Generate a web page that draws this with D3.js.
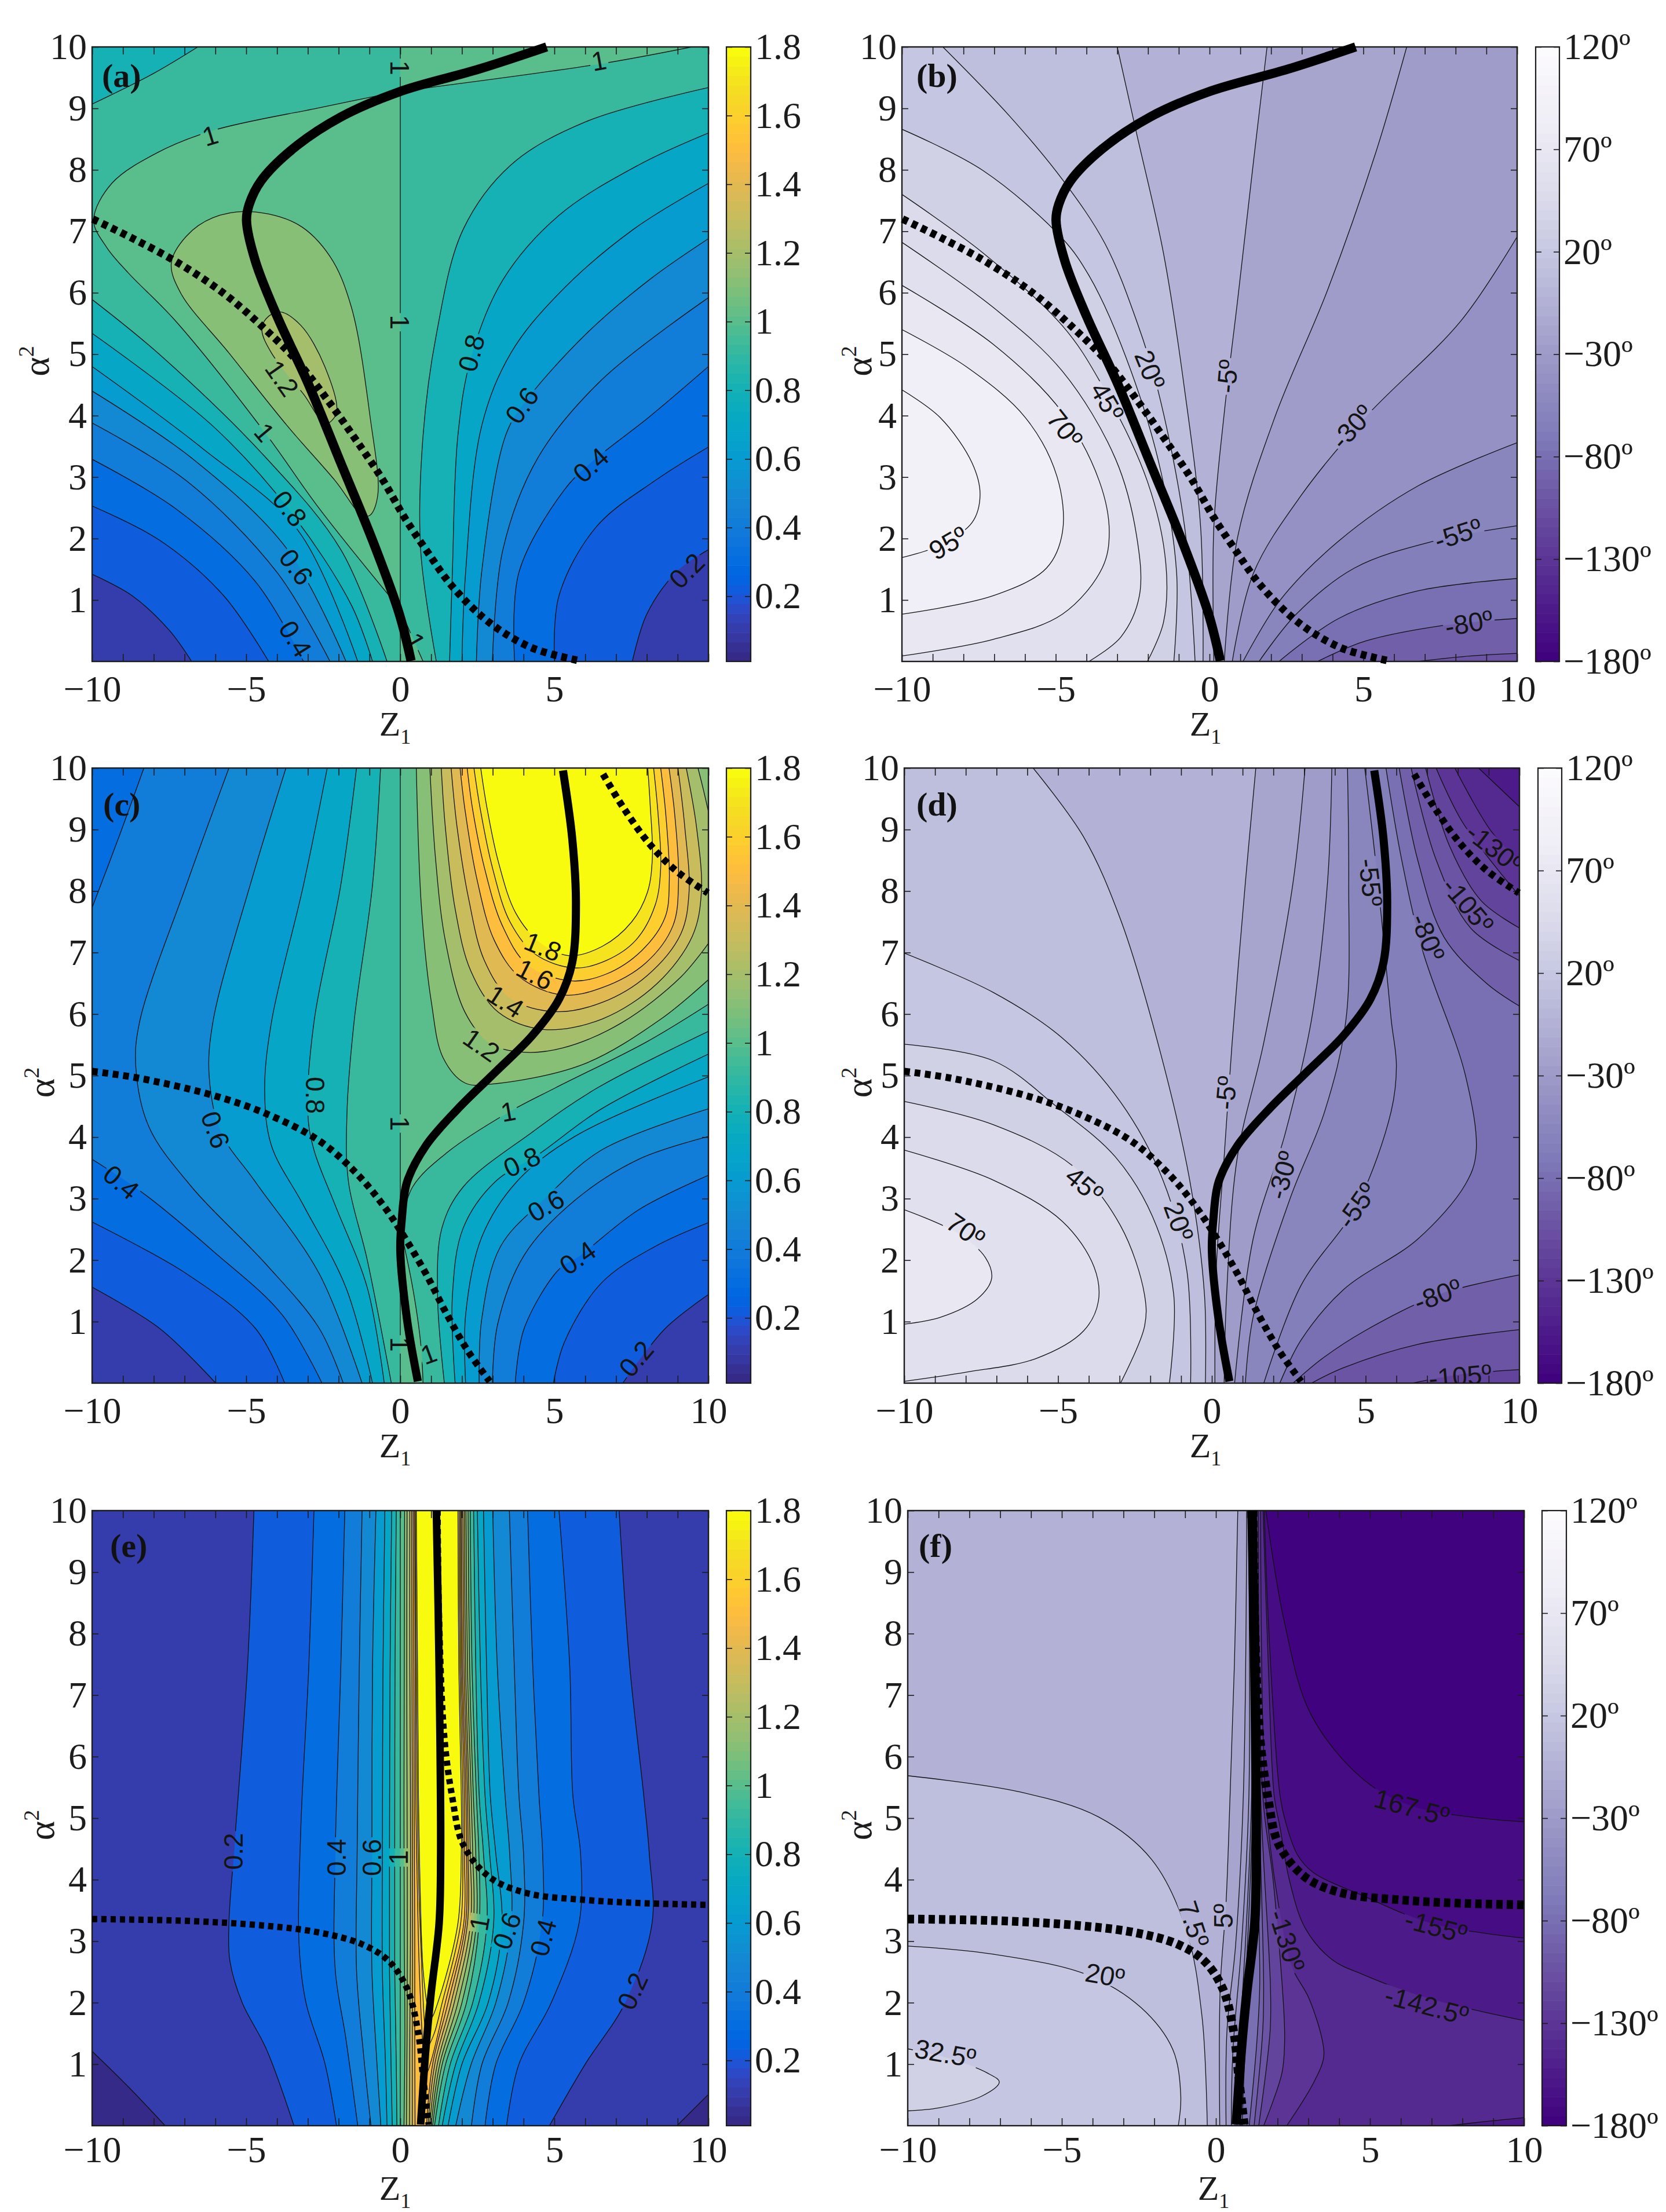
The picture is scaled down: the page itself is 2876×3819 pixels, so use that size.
<!DOCTYPE html>
<html><head><meta charset="utf-8">
<script src="https://cdn.jsdelivr.net/npm/d3@7"></script>
<style>html,body{margin:0;padding:0;background:#fff}</style></head>
<body><svg id="fig" width="2876" height="3819" xmlns="http://www.w3.org/2000/svg"></svg>
<script>
// ---- colour tables ----
const parulaTable = [[.2081,.1663,.5292],[.2116,.1898,.5777],[.2123,.2138,.627],[.2081,.2386,.6771],[.1959,.2645,.7279],[.1707,.2919,.7792],[.1253,.3242,.8303],[.0591,.3598,.8683],[.0117,.3875,.882],[.006,.4086,.8828],[.0165,.4266,.8786],[.0329,.443,.872],[.0498,.4586,.8641],[.0629,.4737,.8554],[.0723,.4887,.8467],[.0779,.504,.8384],[.0793,.52,.8312],[.0749,.5375,.8263],[.0641,.557,.824],[.0488,.5772,.8228],[.0343,.5966,.8199],[.0265,.6137,.8135],[.0239,.6287,.8038],[.0231,.6418,.7913],[.0228,.6535,.7768],[.0267,.6642,.7607],[.0384,.6743,.7436],[.059,.6838,.7254],[.0843,.6928,.7062],[.1133,.7015,.6859],[.1453,.7098,.6646],[.1801,.7177,.6424],[.2178,.725,.6193],[.2586,.7317,.5954],[.3022,.7376,.5712],[.3482,.7424,.5473],[.3953,.7459,.5244],[.442,.7481,.5033],[.4871,.7491,.484],[.53,.7491,.4661],[.5709,.7485,.4494],[.6099,.7473,.4337],[.6473,.7456,.4188],[.6834,.7435,.4044],[.7184,.7411,.3905],[.7525,.7384,.3768],[.7858,.7356,.3633],[.8185,.7327,.3498],[.8507,.7299,.336],[.8824,.7274,.3217],[.9139,.7258,.3063],[.945,.7261,.2886],[.9739,.7314,.2666],[.9938,.7455,.2403],[.999,.7653,.2164],[.9955,.7861,.1967],[.988,.8066,.1794],[.9789,.8271,.1633],[.9697,.8481,.1475],[.9626,.8705,.1309],[.9589,.8949,.1132],[.9598,.9218,.0948],[.9661,.9514,.0755],[.9763,.9831,.0538]];
const purpleRamp = d3.piecewise(d3.interpolateRgb, d3.schemePurples[9]);
const STEPS = 64;
const magDomain = [0, 1.8], phaseDomain = [-180, 120];
const magBarDomain = [0.01, 1.8];
const magTicks = [0.2,0.4,0.6,0.8,1,1.2,1.4,1.6,1.8];
const phaseTicks = [-180,-130,-80,-30,20,70,120];
const zLabels = [-10,-5,0,5,10];
const alphaTicks = [1,2,3,4,5,6,7,8,9,10];

function bandIndex(v, dom){ const t=(v-dom[0])/(dom[1]-dom[0]); return Math.max(0,Math.min(STEPS-1,Math.floor(t*STEPS+1e-9))); }
function magColor(v){ const c=parulaTable[bandIndex(v,magDomain)]; return d3.rgb(c[0]*255,c[1]*255,c[2]*255).formatHex(); }
// the phase scale runs from deep purple at -180 to near white at 120
function phaseColor(v){ return d3.color(purpleRamp(1-(bandIndex(v,phaseDomain)+.5)/STEPS)).formatHex(); }

// ---- resonance and dispersion curves (Z1, alpha^2) ----
const resAB = [[4.75,10],[2.56,9.64],[-.03,9.27],[-1.93,8.86],[-3.49,8.34],[-4.52,7.82],[-4.9,7.44],[-4.99,7.18],[-4.7,6.51],[-4,5.62],[-2.97,4.5],[-1.93,3.23],[-.9,1.97],[-.03,.77],[.35,.01]];
const dotAB = [[-9.98,7.2],[-8.67,6.88],[-7.29,6.51],[-5.73,5.99],[-4.35,5.39],[-3.32,4.87],[-2.28,4.2],[-1.24,3.46],[-.55,2.94],[.14,2.34],[.83,1.82],[1.69,1.22],[2.9,.63],[4.28,.22],[5.84,.01]];
const resCD = [[5.28,9.96],[5.58,8.85],[5.7,7.8],[5.58,6.84],[5.15,6.24],[4.28,5.65],[3.07,5.05],[1.87,4.46],[.83,3.86],[.22,3.27],[.05,2.67],[0,2.15],[.22,1.03],[.57,.03]];
const dotCDleft = [[-10,5.07],[-8.5,4.96],[-6.08,4.68],[-4.35,4.38],[-2.63,3.94],[-1.42,3.41],[-.55,2.89],[.14,2.37],[.83,1.78],[1.52,1.11],[2.21,.51],[2.9,.03]];
const dotCDright = [[6.58,9.9],[7.22,9.37],[8.08,8.77],[8.95,8.33],[9.98,7.97]];
const resEF = [[1.17,10],[1.26,7.45],[1.31,4.42],[1.26,3.29],[1,2.15],[.83,1.25],[.66,.02]];
const dotEFleft = [[-10,3.36],[-6.94,3.33],[-4.35,3.25],[-2.63,3.14],[-1.24,2.95],[-.38,2.68],[.22,2.23],[.57,1.55],[.74,.79],[.92,.02]];
const dotEFright = [[1.21,10],[1.26,8.2],[1.43,6.31],[1.69,5.33],[2.04,4.57],[2.9,4.04],[4.11,3.78],[6.01,3.67],[7.74,3.62],[10,3.59]];

// ---- contour entries ----
// lo: pocket below the level lies on the right of the walking direction
// hi: region above the level lies on the right of the walking direction
const lo = (v,p,o={}) => ({v,side:'lo',segs:[p],...o});
const hi = (v,p,o={}) => ({v,side:'hi',segs:[p],...o});
const wire = (v,p) => ({v,side:'line',segs:[p]});
const zeroLine = [[0,0],[0,10]];

const contoursA = [
 lo(.2,[[-10,1.42],[-8.7,1.07],[-7.5,.51],[-6.77,0]]),
 lo(.3,[[-10,2.53],[-7.8,1.97],[-5.73,1.07],[-4.27,0]]),
 lo(.4,[[-10,3.29],[-7.3,2.49],[-4.7,1.3],[-3.14,0]]),
 lo(.5,[[-10,3.88],[-6.94,2.94],[-4,1.45],[-2.28,0]]),
 lo(.6,[[-10,4.4],[-6.77,3.31],[-3.66,1.82],[-1.76,0]]),
 lo(.7,[[-10,4.8],[-6.4,3.46],[-3.3,2.12],[-1.38,0]]),
 lo(.8,[[-10,5.34],[-6.08,3.83],[-3.58,2.45],[-1.59,.92],[-.9,0]]),
 lo(.9,[[-10,5.89],[-7.8,4.99],[-4.35,3.31],[-1.93,1.82],[-.43,0]]),
 lo(.2,[[7.53,0],[8,.77],[8.95,1.45],[10,1.82]]),
 lo(.3,[[5,0],[5.15,1.07],[6.36,2.19],[8.26,2.94],[10,3.49]]),
 lo(.4,[[3.71,0],[3.85,1.45],[5.32,2.79],[6.18,3.23],[8.08,3.98],[10,4.8]]),
 lo(.5,[[2.99,0],[3.33,1.82],[4.46,3.31],[6.53,4.58],[10,5.92]]),
 lo(.6,[[2.47,0],[2.64,1.45],[3.42,3.68],[4.02,4.2],[6.01,5.32],[8.08,6.21],[10,6.88]]),
 lo(.7,[[2,0],[2.12,1.45],[2.64,3.83],[3.59,5.02],[5.15,5.99],[7.56,7.03],[10,7.78]]),
 lo(.8,[[1.6,0],[1.69,1.45],[1.87,3.68],[2.3,4.95],[3.33,6.21],[5.15,7.26],[7.74,8.08],[10,8.6]]),
 lo(.9,[[1.17,0],[.66,1.82],[.74,3.68],[1.17,5.32],[2.04,7.03],[3.59,8.08],[6.01,8.78],[10,9.34]]),
 lo(.9,[[-6.57,10],[-8,9.57],[-10,9.07]]),
 hi(1,[[0,.85],[-2.63,2.49],[-4.4,3.73],[-7.29,5.54],[-8.84,6.33],[-9.53,6.74],[-9.95,7.18],[-9.36,7.78],[-7.8,8.3],[-6.08,8.64],[-2.63,9.01],[0,9.28]]),
 hi(1,[[9.46,10],[6.44,9.72],[.65,9.32],[0,9.28]],{via:[[0,10]]}),
 hi(1,[[0,.85],[.3,.5],[.74,0]],{via:[[0,0]]}),
 wire(1,zeroLine),
 hi(1.1,[[-4.87,7.32],[-3.32,7.11],[-2.28,6.59],[-1.59,5.77],[-.98,3.98],[-.73,2.71],[-.98,2.38],[-1.24,2.38],[-2.11,2.94],[-3.66,3.83],[-5.56,5.02],[-7.12,5.99],[-7.43,6.48],[-6.94,6.92],[-6.08,7.22]],{closed:true}),
 hi(1.2,[[-3.92,5.69],[-3.23,5.47],[-2.45,4.8],[-2.07,4.05],[-2.42,3.87],[-3.14,4.35],[-4.18,5.02],[-4.49,5.39],[-4.35,5.58]],{closed:true}),
];
const labelsA = [["1",-6.17,8.56,-17],["1",6.44,9.78,-10],["1",0,9.66,90],["1",0,5.52,90],["1",-4.4,3.73,50],["1",.48,.33,60],["0.8",2.3,5.02,-75],["0.6",3.94,4.17,-55],["0.4",6.18,3.2,-42],["0.2",9.29,1.48,-45],["1.2",-3.83,4.61,55],["0.8",-3.58,2.49,52],["0.6",-3.37,1.54,53],["0.4",-3.4,.37,58]];

const contoursB = [
 hi(-92.5,[[10,.13],[8.51,.09],[6.79,0]]),
 hi(-80,[[10,.7],[7.65,.59],[5.06,.33],[3.51,0]]),
 hi(-67.5,[[10,1.35],[6.79,1.15],[4.2,.7],[2.26,0]]),
 hi(-55,[[10,2.21],[7.3,1.96],[4.71,1.52],[2.82,.77],[1.61,0]]),
 hi(-42.5,[[10,3.56],[6.79,2.86],[4.2,1.96],[2.3,1],[1.09,0]]),
 hi(-30,[[10,6.91],[8.17,5.54],[5.06,3.97],[2.99,2.71],[1.43,1.44],[.74,0]]),
 hi(-17.5,[[6.41,10],[5.41,8.29],[3.85,6.06],[2.12,3.97],[.92,2.04],[.48,0]]),
 hi(-5,[[1.87,10],[1.43,8.14],[.92,5.91],[.48,4.05],[.14,2.19],[.14,0]]),
 hi(7.5,[[-3,10],[-2.37,8.59],[-1.5,6.65],[-.81,4.42],[-.29,2.19],[-.21,0]]),
 hi(20,[[-8.67,10],[-6.51,8.88],[-4.78,7.84],[-3.4,6.8],[-2.37,5.54],[-1.68,4.42],[-.81,2.19],[-.47,0]]),
 hi(32.5,[[-10,8.66],[-7.37,7.99],[-4.78,6.88],[-3.92,6.28],[-2.88,5.16],[-1.68,3.3],[-1.07,1.44],[-1.16,0]]),
 hi(45,[[-10,7.6],[-7.37,6.65],[-4.78,5.46],[-3.58,4.57],[-2.02,2.93],[-1.42,1.59],[-1.5,.63],[-2.02,0]]),
 hi(57.5,[[-10,6.82],[-7.03,5.76],[-4.78,4.72],[-3.06,3.3],[-2.37,2.04],[-2.28,1.07],[-2.88,.4],[-3.92,0]]),
 hi(70,[[-10,6.12],[-7.03,5.16],[-4.78,4.05],[-3.58,2.93],[-3.26,2.11],[-3.49,1.52],[-4.78,.77],[-7.03,.36],[-10,.09]]),
 hi(82.5,[[-10,5.4],[-7.89,4.79],[-5.99,3.97],[-4.96,3.01],[-4.78,2.11],[-5.3,1.52],[-7.03,1.07],[-10,.77]]),
 hi(95,[[-10,4.42],[-8.76,3.97],[-7.72,3.23],[-7.46,2.71],[-7.72,2.26],[-8.76,1.89],[-10,1.69]]),
];
const labelsB = [["95º",-8.5,1.93,-30],["70º",-4.7,3.79,52],["45º",-3.32,4.23,60],["20º",-1.93,4.75,68],["-5º",.57,4.64,-85],["-30º",4.63,3.82,-48],["-55º",8.08,2.08,-18],["-80º",8.43,.63,-10]];

const contoursC = [
 lo(.4,[[-8.32,10],[-9.1,8.92],[-10,7.73]]),
 lo(.2,[[-10,1.56],[-7.81,.89],[-5.99,0]]),
 lo(.3,[[-10,2.62],[-6.94,1.78],[-4.7,.89],[-3.75,0]]),
 lo(.4,[[-10,3.64],[-8.32,3.08],[-6.08,2.15],[-3.83,1.11],[-2.54,0]]),
 lo(.5,[[-5.56,10],[-6.94,8.1],[-8.46,5.87],[-8.58,5.13],[-8.15,4.16],[-6.77,3.19],[-4.35,1.93],[-2.63,.89],[-1.85,0]]),
 lo(.6,[[-3.71,10],[-4.87,8.1],[-6.08,5.87],[-6.2,4.98],[-5.82,4.08],[-4.7,3.27],[-2.63,1.78],[-1.24,0]]),
 lo(.7,[[-2.37,10],[-3.14,8.1],[-4.18,5.87],[-4.4,4.75],[-4.18,3.86],[-3.14,2.89],[-1.76,1.55],[-.9,0]]),
 lo(.8,[[-1.42,10],[-1.93,8.1],[-2.8,5.87],[-3,4.38],[-2.8,3.79],[-2.11,2.89],[-1.07,1.55],[-.52,0]]),
 lo(.9,[[-.64,10],[-.9,8.1],[-1.5,5.87],[-1.73,4.38],[-1.68,3.27],[-1.07,2],[-.29,0]]),
 lo(.2,[[7.22,0],[8.6,.89],[10,1.44]]),
 lo(.3,[[4.97,0],[5.32,.66],[6.53,1.63],[8.26,2.22],[10,2.61]]),
 lo(.4,[[3.73,0],[4.02,.89],[5.15,1.85],[5.75,2.04],[7.74,2.82],[10,3.38]]),
 lo(.5,[[2.99,0],[3.16,.96],[4.02,2.08],[5.66,2.97],[7.74,3.64],[10,4.01]]),
 lo(.6,[[2.56,0],[2.64,1.03],[3.25,2.22],[4.72,3.01],[6.53,3.79],[10,4.46]]),
 lo(.7,[[2.12,0],[2.12,1.11],[2.64,2.37],[3.77,3.27],[5.66,4.01],[10,4.98]]),
 lo(.8,[[1.78,0],[1.69,1.41],[2.04,2.52],[3.07,3.27],[4.46,3.71],[6.53,4.46],[10,5.35]]),
 lo(.9,[[1.43,0],[1.21,1.41],[1.35,2.52],[2.04,3.19],[4.28,4.08],[6.36,4.79],[10,5.72]]),
 hi(1,[[10,6.16],[8,5.55],[5.03,4.8],[3.5,4.4],[1.52,3.75],[.4,3.19],[0,2.52]],{via:[[0,10],[10,10]]}),
 hi(1,[[0,2.52],[.4,1.56],[.66,.66],[.74,0]],{via:[[0,0]]}),
 wire(1,zeroLine),
 hi(1.1,[[10,6.56],[8.46,5.92],[5.92,5.18],[2.92,4.86],[2.1,4.88],[1.39,5.29],[1.01,6.19],[.69,7.71],[.52,10]]),
 hi(1.2,[[10,7.15],[9.1,6.6],[7.19,5.86],[5.28,5.45],[4,5.38],[2.92,5.52],[2.1,6.03],[1.46,7.2],[1.14,8.55],[.96,10]]),
 hi(1.2,[[10,9.29],[9.83,9.66],[9.66,10]],{band:1.1}),
 hi(1.3,[[9.28,10],[9.61,9.05],[9.77,7.98],[9.48,7.27],[8.34,6.5],[6.55,5.92],[4.64,5.75],[3.18,6.03],[2.29,6.7],[1.78,7.71],[1.46,9.05],[1.33,10]]),
 hi(1.4,[[9.01,10],[9.23,9.05],[9.37,7.98],[9.1,7.3],[8.02,6.63],[6.55,6.19],[5.03,6.04],[3.56,6.26],[2.73,6.87],[2.22,7.87],[1.84,9.05],[1.65,10]]),
 hi(1.5,[[8.72,10],[8.91,9.22],[9.03,8.18],[8.85,7.44],[7.96,6.83],[6.55,6.43],[5.28,6.31],[3.88,6.6],[3.05,7.2],[2.48,8.21],[2.1,9.32],[1.94,10]]),
 hi(1.6,[[8.45,10],[8.62,9.22],[8.73,8.18],[8.59,7.57],[7.83,7.03],[6.68,6.65],[5.54,6.54],[4.13,6.8],[3.31,7.44],[2.73,8.38],[2.35,9.32],[2.17,10]]),
 hi(1.7,[[8.22,10],[8.37,9.22],[8.45,8.38],[8.27,7.77],[7.64,7.2],[6.68,6.87],[5.66,6.75],[4.39,6.97],[3.56,7.5],[2.99,8.38],[2.6,9.32],[2.39,10]]),
 hi(1.8,[[8.03,10],[8.11,9.39],[8.18,8.55],[8.02,7.98],[7.51,7.5],[6.55,7.1],[5.47,6.95],[4.52,7.17],[3.75,7.64],[3.18,8.48],[2.8,9.39],[2.61,10]]),
];
const labelsC = [["1.8",4.63,7.1,22],["1.6",4.37,6.65,27],["1.4",3.42,6.21,33],["1.2",2.64,5.5,35],["1",3.5,4.42,-10],["0.8",3.94,3.6,-25],["0.6",4.72,2.89,-30],["0.4",5.75,2.04,-35],["0.2",7.65,.4,-50],["0.8",-2.76,4.68,90],["0.6",-5.99,4.12,70],["0.4",-9.05,3.27,40],["1",0,4.22,90],["1",0,.63,90],["1",.92,.48,-20]];

const contoursD = [
 hi(-67.5,[[5.66,10],[6.17,8.51],[6.86,7.02],[8.24,5.01],[8.59,3.75],[8.24,3.23],[6.69,2.34],[4.28,1.52],[2.9,.7],[2.21,0]]),
 hi(-55,[[4.97,10],[5.4,8.14],[5.83,5.91],[6,5.16],[5.83,4.42],[4.71,2.89],[2.9,1.59],[1.69,0]]),
 hi(-42.5,[[4.41,10],[4.45,8.14],[4.36,5.91],[3.67,4.42],[2.55,3.01],[1.34,1.07],[1.09,0]]),
 hi(-30,[[3.9,10],[3.76,8.14],[3.24,5.91],[2.38,4.05],[1.34,2.34],[.74,0]]),
 hi(-17.5,[[3.03,10],[2.64,8.14],[1.69,5.54],[.83,3.68],[.48,1.44],[.4,0]]),
 hi(-5,[[1.43,10],[1.09,8.14],[.66,5.54],[.4,3.68],[.14,1.82],[.1,0]]),
 hi(7.5,[[-5.81,10],[-4.17,8.88],[-2.97,7.54],[-1.76,5.54],[-.72,3.3],[-.24,1.44],[-.21,0]]),
 hi(20,[[-10,6.99],[-7.1,6.35],[-4.86,5.61],[-2.97,4.57],[-1.59,3.3],[-.81,1.82],[-.69,0]]),
 hi(32.5,[[-10,5.51],[-7.1,5.24],[-5.03,4.49],[-3.14,3.68],[-1.93,2.71],[-1.24,1.44],[-1.38,0]]),
 hi(45,[[-10,4.58],[-7.1,4.2],[-4.52,3.53],[-2.97,2.56],[-2.19,1.44],[-2.19,.92],[-2.97,0]]),
 hi(57.5,[[-10,3.79],[-7.1,3.3],[-4.86,2.63],[-3.83,1.89],[-3.69,1.33],[-4.17,.85],[-5.72,.4],[-7.97,.18],[-10,.03]]),
 hi(70,[[-10,2.82],[-8.31,2.45],[-7.36,2.04],[-7.16,1.7],[-7.62,1.37],[-8.83,1.07],[-10,.96]]),
 lo(-80,[[10,6.13],[8.93,6.5],[7.55,7.25],[6.69,8.51],[6.09,10]]),
 lo(-92.5,[[10,6.87],[8.41,7.4],[7.29,8.51],[6.48,10]]),
 lo(-105,[[10,7.4],[8.76,7.84],[7.72,8.74],[6.95,10]]),
 lo(-117.5,[[10,7.92],[8.16,9.11],[7.29,10]]),
 lo(-130,[[10,8.51],[9.1,8.96],[7.9,10]]),
 lo(-142.5,[[10,9.37],[8.67,10]]),
 lo(-80,[[2.64,0],[3.59,.4],[4.97,.85],[7.38,1.44],[10,1.76]]),
 lo(-92.5,[[3.24,0],[4.28,.25],[6.69,.63],[10,.87]]),
 lo(-105,[[6.52,0],[8.07,.14],[10,.22]]),
];
const labelsD = [["70º",-8,2.49,35],["45º",-4.14,3.23,40],["20º",-1.07,2.63,70],["-5º",.45,4.72,-85],["-30º",2.29,3.38,-75],["-55º",4.71,2.89,-55],["-80º",7.34,1.44,-20],["-105º",8.07,.12,-5],["-55º",5.17,8.14,83],["-80º",7.03,7.25,68],["-105º",8.33,7.77,50],["-130º",9.19,8.7,38]];

// panel (e): right-hand flank read at fixed alpha^2 stations
const stationsE = [10,7.45,5.37,4.42,3.29,2,1,0];
const flankE = {
 .2:[7.1,7.45,7.9,8.08,8.17,7.3,6,4.84],
 .3:[5.15,5.5,5.6,5.85,5.8,4.9,3.85,3.45],
 .4:[4.13,4.3,4.5,4.62,4.6,4,3.1,2.75],
 .5:[3.54,3.7,3.85,4,4,3.5,2.65,2.31],
 .6:[3,3.15,3.4,3.55,3.6,3.1,2.3,1.8],
 .7:[2.7,2.8,2.92,3.1,3.3,2.85,2,1.55],
 .8:[2.5,2.6,2.75,2.9,3.03,2.55,1.8,1.36],
 .9:[2.38,2.45,2.56,2.7,2.81,2.35,1.62,1.24],
 1:[2.27,2.33,2.47,2.55,2.56,2.15,1.47,1.11],
 1.1:[2.2,2.25,2.37,2.45,2.47,2,1.36,1.05],
 1.2:[2.13,2.18,2.3,2.35,2.37,1.87,1.28,1],
 1.3:[2.08,2.12,2.23,2.27,2.28,1.75,1.2,.95],
 1.4:[2.03,2.07,2.18,2.2,2.18,1.65,1.12,.9],
 1.5:[1.98,2.02,2.13,2.15,2.12,1.55,1.05,.85]};
const flank = v => stationsE.map((y,i)=>[flankE[v][i],y]);
const riseE = v => flank(v).reverse();
const contoursE = [
 lo(.1,[[-10,1.21],[-8.84,.64],[-7.63,0]]),
 lo(.1,[[8.98,0],[10,.51]]),
 lo(.2,[[-4.75,10],[-4.96,7.45],[-5.39,4.5],[-5.56,3.29],[-5.53,2.68],[-5.13,2],[-4.35,1.25],[-3.45,0]]),
 lo(.3,[[-2.8,10],[-2.97,7.45],[-3.23,4.8],[-3.28,2.91],[-3.06,2],[-2.45,1.02],[-2.07,0]]),
 lo(.4,[[-1.8,10],[-1.93,7.45],[-2.11,4.42],[-2.11,2.53],[-1.76,1.4],[-1.38,0]]),
 lo(.5,[[-1.24,10],[-1.33,7.45],[-1.4,4.42],[-1.42,2.53],[-1.2,1.2],[-.95,0]]),
 lo(.6,[[-.79,10],[-.9,7.45],[-.92,4.42],[-.92,2.53],[-.78,1.2],[-.63,0]]),
 lo(.7,[[-.5,10],[-.56,7.45],[-.58,4.42],[-.58,2.5],[-.48,1],[-.43,0]]),
 lo(.8,[[-.28,10],[-.33,7.45],[-.35,4.42],[-.35,2.5],[-.3,1],[-.26,0]]),
 lo(.9,[[-.13,10],[-.17,7.45],[-.18,4.42],[-.18,2.5],[-.13,1],[-.11,0]]),
 lo(.2,riseE(.2)),lo(.3,riseE(.3)),lo(.4,riseE(.4)),lo(.5,riseE(.5)),lo(.6,riseE(.6)),lo(.7,riseE(.7)),lo(.8,riseE(.8)),lo(.9,riseE(.9)),
 hi(1,flank(1),{via:[[0,0],[0,10]]}),
 wire(1,zeroLine),
 {v:1.1,side:'hi',segs:[flank(1.1),[[.12,0],[.15,1.5],[.13,3],[.12,5.37],[.13,7.45],[.14,10]]]},
 {v:1.2,side:'hi',segs:[flank(1.2),[[.2,0],[.22,1.5],[.23,3],[.22,5.37],[.21,7.45],[.22,10]]]},
 {v:1.3,side:'hi',segs:[flank(1.3),[[.3,0],[.31,1.5],[.33,3],[.33,5.37],[.31,7.45],[.31,10]]]},
 {v:1.4,side:'hi',segs:[flank(1.4),[[.39,0],[.39,1.5],[.4,3],[.39,5.37],[.38,7.45],[.37,10]]]},
 {v:1.5,side:'hi',segs:[flank(1.5),[[.48,0],[.47,1.5],[.47,3],[.45,5.37],[.44,7.45],[.42,10]]]},
 hi(1.6,[[1.95,10],[1.98,7.45],[2.08,5.37],[2.08,4.42],[2.06,3.29],[1.46,2],[1,1.05],[.85,.85],[.75,1.2],[.62,2.5],[.55,3.95],[.5,5.37],[.49,7.45],[.46,10]]),
 hi(1.7,[[1.91,10],[1.94,7.45],[2.03,5.37],[2.03,4.42],[1.96,3.29],[1.36,2],[1.1,1.5],[.9,1.3],[.8,1.6],[.7,2.54],[.6,3.95],[.55,5.37],[.52,7.45],[.49,10]]),
 hi(1.8,[[1.87,10],[1.9,7.45],[1.98,5.37],[1.98,4.42],[1.87,3.29],[1.25,2.05],[1,1.75],[.9,1.9],[.74,2.54],[.64,3.95],[.59,5.37],[.56,7.45],[.52,10]]),
];
const labelsE = [["0.2",-5.42,4.46,-90],["0.4",-2.07,4.36,-90],["0.6",-.93,4.36,-90],["1",-.07,4.36,-90],["1",2.56,3.29,-80],["0.6",3.45,3.17,-70],["0.4",4.63,3.06,-75],["0.2",7.53,2.19,-65]];

const contoursF = [
 hi(-167.5,[[1.62,10],[2.22,8.19],[3.09,6.68],[4.81,5.62],[6.53,5.17],[10,4.94]]),
 hi(-155,[[1.57,10],[1.72,8],[2.08,5.37],[2.27,4.92],[2.65,4.4],[3.15,4.12],[4.81,3.73],[7.05,3.28],[10,3.05]]),
 hi(-142.5,[[1.53,10],[1.7,7.5],[1.89,5.37],[2.08,4.85],[2.39,3.98],[2.9,3.21],[3.77,2.7],[4.81,2.45],[6.88,2.07],[10,1.71]]),
 hi(-142.5,[[7.57,0],[8.78,.07],[10,.13]],{band:-155}),
 hi(-130,[[1.45,10],[1.61,5.37],[2.02,3.63],[2.46,2.59],[3.02,2.07],[3.46,1.37],[3.49,1.09],[3.15,.68],[2.3,0]]),
 hi(-117.5,[[1.38,10],[1.52,5.37],[1.86,3.98],[2.2,1.9],[2.23,1.37],[2.14,.85],[1.55,0]]),
 hi(-105,[[1.33,10],[1.45,5.37],[1.77,2.24],[1.76,1.55],[1.39,0]]),
 hi(-92.5,[[1.28,10],[1.4,5.37],[1.55,2.24],[1.52,1.55],[1.24,0]]),
 hi(-80,[[1.25,10],[1.38,5.37],[1.39,3.63],[1.42,2.24],[1.33,1.37],[1.08,0]]),
 hi(-67.5,[[1.22,10],[1.3,5.37],[1.2,2.9],[.95,1.2],[.85,0]]),
 hi(-55,[[1.18,10],[1.2,5.37],[1.02,2.9],[.82,1.2],[.68,0]]),
 hi(-42.5,[[1.15,10],[1.16,5.37],[.95,2.9],[.75,1.2],[.62,0]]),
 hi(-30,[[1.05,10],[1.07,5.37],[.83,2.94],[.55,1.2],[.5,0]]),
 hi(-17.5,[[1,10],[.89,5.37],[.64,2.94],[.36,1.55],[.33,0]]),
 hi(-5,[[.71,10],[.6,7.5],[.46,5.37],[.33,3.63],[.14,2.24],[.125,0]]),
 hi(7.5,[[-10,5.69],[-6.4,5.43],[-3.81,5.02],[-2.09,4.33],[-.97,3.2],[-.45,1.77],[-.28,0]]),
 hi(20,[[-10,2.92],[-7.26,2.79],[-4.16,2.45],[-2.43,1.92],[-1.4,1.24],[-1.14,.48],[-1.22,0]]),
 hi(32.5,[[-10,1.25],[-8.64,1.09],[-7.43,.86],[-7.03,.71],[-7.6,.48],[-8.98,.29],[-10,.24]]),
];
const labelsF = [["32.5º",-8.78,1.18,10],["20º",-3.6,2.45,10],["7.5º",-.71,3.28,72],["5º",.23,3.41,-90],["-130º",2.31,3.01,72],["-155º",7.14,3.24,15],["-142.5º",6.84,1.96,15],["167.5º",6.36,5.18,15]];

// ---- panel layout ----
const panels = [
 {id:"a",tag:"(a)",x0:159,x1:1223,y0:81,y1:1142,cb:[1254,1296],kind:"mag",base:.9,step:.1,con:contoursA,lab:labelsA,res:resAB,dots:[dotAB],rw:16,dw:13,da:"10 8",ax:66,zx:682,zy:1270,tx:176,ty:150,last:false,pad:24},
 {id:"b",tag:"(b)",x0:1557,x1:2619,y0:81,y1:1142,cb:[2651,2692],kind:"phase",base:-105,step:12.5,con:contoursB,lab:labelsB,res:resAB,dots:[dotAB],rw:16,dw:13,da:"10 8",ax:1486,zx:2081,zy:1270,tx:1582,ty:150,last:true,pad:24},
 {id:"c",tag:"(c)",x0:159,x1:1223,y0:1326,y1:2388,cb:[1254,1296],kind:"mag",base:.9,step:.1,con:contoursC,lab:labelsC,res:resCD,dots:[dotCDleft,dotCDright],rw:14,dw:12,da:"10 8",ax:75,zx:682,zy:2516,tx:178,ty:1408,last:true,pad:24},
 {id:"d",tag:"(d)",x0:1561,x1:2623,y0:1326,y1:2388,cb:[2655,2696],kind:"phase",base:-80,step:12.5,con:contoursD,lab:labelsD,res:resCD,dots:[dotCDleft,dotCDright],rw:14,dw:12,da:"10 8",ax:1486,zx:2081,zy:2516,tx:1582,ty:1408,last:true,pad:24},
 {id:"e",tag:"(e)",x0:159,x1:1223,y0:2608,y1:3670,cb:[1254,1296],kind:"mag",base:.9,step:.1,con:contoursE,lab:labelsE,res:resEF,dots:[dotEFleft,dotEFright],rw:13,dw:11,da:"9 7",ax:75,zx:682,zy:3798,tx:190,ty:2688,last:true,pad:18},
 {id:"f",tag:"(f)",x0:1567,x1:2631,y0:2608,y1:3670,cb:[2662,2704],kind:"phase",base:-180,step:12.5,con:contoursF,lab:labelsF,res:resEF,dots:[dotEFleft,dotEFright],rw:16,dw:15,da:"11 7",ax:1486,zx:2095,zy:3798,tx:1586,ty:2688,last:true,pad:18},
];

// ---- drawing ----
const SERIF = "'Liberation Serif','Times New Roman',serif";
const SANS = "'Liberation Sans',Arial,sans-serif";
const INK = "#1c1c1c";
const svg = d3.select("#fig");
const defs = svg.append("defs");
const fmtZ = d => String(d).replace("-","\u2212");

const onFrame = ([x,y]) => Math.abs(x)>=9.99 || y<=0.01 || y>=9.99;
const perimeter = ([x,y]) => Math.abs(x+10)<.02 ? y/10 : y>=9.99 ? 1+(x+10)/20 : Math.abs(x-10)<.02 ? 2+(10-y)/10 : 3+(10-x)/20;
const corners = [[-10,0],[-10,10],[10,10],[10,0]];
function frameWalk(end,start){
  const p=perimeter(end); let q=perimeter(start); if(q<=p) q+=4;
  const out=[]; for(let k=Math.floor(p)+1;k<q;k++) out.push(corners[k%4]);
  return out;
}

panels.forEach(P=>{
  const x=d3.scaleLinear().domain([-10,10]).range([P.x0,P.x1]);
  const y=d3.scaleLinear().domain([0,10]).range([P.y1,P.y0]);
  const color=P.kind==="mag"?magColor:phaseColor;
  const dom=P.kind==="mag"?magBarDomain:phaseDomain;
  const openLine=d3.line().x(d=>x(d[0])).y(d=>y(d[1])).curve(d3.curveCatmullRom.alpha(.5));
  const loopLine=d3.line().x(d=>x(d[0])).y(d=>y(d[1])).curve(d3.curveCatmullRomClosed.alpha(.5));
  const g=svg.append("g").attr("id","panel-"+P.id);

  defs.append("clipPath").attr("id","clip-"+P.id).append("rect").attr("x",P.x0).attr("y",P.y0).attr("width",P.x1-P.x0).attr("height",P.y1-P.y0);
  const mask=defs.append("mask").attr("id","gap-"+P.id).attr("maskUnits","userSpaceOnUse").attr("x",0).attr("y",0).attr("width",2876).attr("height",3819);
  mask.append("rect").attr("x",0).attr("y",0).attr("width",2876).attr("height",3819).attr("fill","#fff");

  const field=g.append("g").attr("clip-path",`url(#clip-${P.id})`);
  field.append("rect").attr("x",P.x0).attr("y",P.y0).attr("width",P.x1-P.x0).attr("height",P.y1-P.y0).attr("fill",color(P.base));

  // pockets are painted from the widest inward, then the raised regions on top
  const lows=P.con.filter(c=>c.side==="lo").sort((a,b)=>b.v-a.v);
  const highs=P.con.filter(c=>c.side==="hi").sort((a,b)=>a.v-b.v);
  [...lows,...highs].forEach(c=>{
    let d;
    if(c.closed){ d=loopLine(c.segs[0]); }
    else{
      d=c.segs.map((s,i)=>{const t=openLine(s);return i?"L"+t.slice(1):t;}).join("");
      const first=c.segs[0][0], lastSeg=c.segs[c.segs.length-1], last=lastSeg[lastSeg.length-1];
      let extra=[];
      if(c.via) extra=c.via;
      else if(onFrame(first)&&onFrame(last)) extra=frameWalk(last,first);
      extra.forEach(q=>{d+=`L${x(q[0])},${y(q[1])}`;});
      d+="Z";
    }
    const fillV=c.band!==undefined?c.band:(c.side==="lo"?c.v-P.step:c.v);
    field.append("path").attr("d",d).attr("fill",color(fillV)).attr("stroke",color(fillV)).attr("stroke-width",.6);
  });

  // contour strokes, broken under their labels
  const strokes=field.append("g").attr("mask",`url(#gap-${P.id})`).attr("fill","none").attr("stroke","#111").attr("stroke-width",1.3);
  P.con.forEach(c=>{
    c.segs.forEach(s=>{ strokes.append("path").attr("d",c.closed?loopLine(s):openLine(s)); });
  });

  // axes with inward ticks on every side
  const every=d3.range(-10,11);
  const shown=P.last?zLabels:zLabels.slice(0,4);
  const style=a=>{a.select(".domain").remove();a.selectAll("line").attr("stroke",INK).attr("stroke-width",1.6);
    a.selectAll("text").attr("font-family",SERIF).attr("font-size",64).attr("fill",INK);};
  g.append("g").attr("transform",`translate(0,${P.y1})`)
    .call(d3.axisBottom(x).tickValues(every).tickSize(-13).tickPadding(P.pad).tickFormat(d=>shown.includes(d)?fmtZ(d):"")).call(style);
  g.append("g").attr("transform",`translate(0,${P.y0})`)
    .call(d3.axisTop(x).tickValues(every).tickSize(-13).tickFormat("")).call(style);
  g.append("g").attr("transform",`translate(${P.x0},0)`)
    .call(d3.axisLeft(y).tickValues(alphaTicks).tickSize(-11).tickPadding(9)).call(style);
  g.append("g").attr("transform",`translate(${P.x1},0)`)
    .call(d3.axisRight(y).tickValues(alphaTicks).tickSize(-11).tickFormat("")).call(style);
  g.append("rect").attr("x",P.x0).attr("y",P.y0).attr("width",P.x1-P.x0).attr("height",P.y1-P.y0).attr("fill","none").attr("stroke",INK).attr("stroke-width",2.4);

  // contour labels
  const labs=g.append("g").attr("clip-path",`url(#clip-${P.id})`);
  P.lab.forEach(([t,lx,ly,r])=>{
    const node=labs.append("text").text(t).attr("text-anchor","middle").attr("dy",".36em")
      .attr("transform",`translate(${x(lx)},${y(ly)}) rotate(${r})`)
      .attr("font-family",SANS).attr("font-size",46).attr("fill","#141414");
    const w=node.node().getComputedTextLength();
    mask.append("rect").attr("x",-w/2-3).attr("y",-17).attr("width",w+6).attr("height",34)
      .attr("transform",`translate(${x(lx)},${y(ly)}) rotate(${r})`).attr("fill","#000");
  });

  // dispersion (dotted) and resonance (solid) curves
  P.dots.forEach(D=>{
    g.append("path").attr("d",openLine(D)).attr("fill","none").attr("stroke","#000").attr("stroke-width",P.dw).attr("stroke-dasharray",P.da);
  });
  g.append("path").attr("d",openLine(P.res)).attr("fill","none").attr("stroke","#000").attr("stroke-width",P.rw);

  // panel tag
  g.append("text").text(P.tag).attr("x",P.tx).attr("y",P.ty).attr("font-family",SERIF).attr("font-weight","bold").attr("font-size",58).attr("fill","#111");

  // axis titles
  const zt=g.append("text").attr("x",P.zx).attr("y",P.zy).attr("text-anchor","middle").attr("font-family",SERIF).attr("font-size",60).attr("fill",INK);
  zt.append("tspan").text("Z");
  zt.append("tspan").text("1").attr("font-size",36).attr("dy",14);
  const at=g.append("text").attr("transform",`translate(${P.ax+18},${(P.y0+P.y1)/2+12}) rotate(-90)`).attr("text-anchor","middle").attr("font-family",SERIF).attr("font-size",64).attr("fill",INK);
  at.append("tspan").text("α");
  at.append("tspan").text("2").attr("font-size",38).attr("dy",-26);

  // colour bar
  const cy=d3.scaleLinear().domain(dom).range([P.y1,P.y0]);
  const barStep=(dom[1]-dom[0])/STEPS;
  const bar=g.append("g");
  bar.selectAll("rect").data(d3.range(STEPS)).join("rect")
    .attr("x",P.cb[0]).attr("width",P.cb[1]-P.cb[0])
    .attr("y",i=>cy(dom[0]+(i+1)*barStep)).attr("height",i=>cy(dom[0]+i*barStep)-cy(dom[0]+(i+1)*barStep)+.6)
    .attr("fill",i=>color(dom[0]+(i+.5)*barStep));
  const cbTicks=P.kind==="mag"?magTicks:phaseTicks;
  const cbFmt=P.kind==="mag"?(d=>String(d)):(d=>fmtZ(d)+"º");
  g.append("g").attr("transform",`translate(${P.cb[1]},0)`)
    .call(d3.axisRight(cy).tickValues(cbTicks).tickSize(-10).tickPadding(7).tickFormat(cbFmt)).call(style);
  g.append("g").attr("transform",`translate(${P.cb[0]},0)`)
    .call(d3.axisLeft(cy).tickValues(cbTicks).tickSize(-10).tickFormat("")).call(style);
  g.append("rect").attr("x",P.cb[0]).attr("y",P.y0).attr("width",P.cb[1]-P.cb[0]).attr("height",P.y1-P.y0).attr("fill","none").attr("stroke",INK).attr("stroke-width",2.2);
});
</script></body></html>
